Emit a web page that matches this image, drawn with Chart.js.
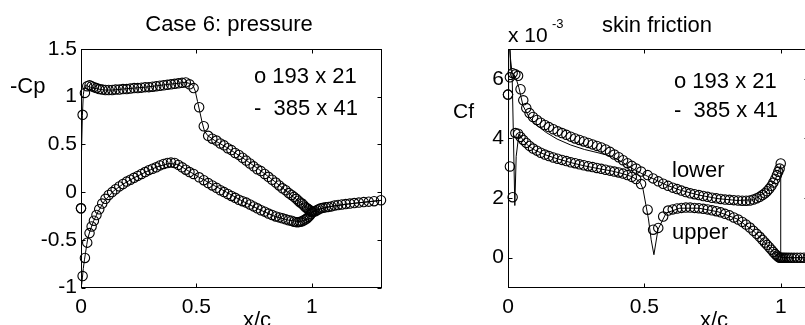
<!DOCTYPE html>
<html>
<head>
<meta charset="utf-8">
<script src="https://cdn.jsdelivr.net/npm/chart.js@4.4.1/dist/chart.umd.min.js"></script>
<style>
  html, body { margin: 0; padding: 0; background: #fff; overflow: hidden; }
  body { width: 805px; height: 325px; position: relative; }
  canvas { position: absolute; top: 0; }
  #cpChart { left: 0; }
  #cfChart { left: 400px; }
</style>
</head>
<body>
<canvas id="cpChart" width="400" height="325"></canvas>
<canvas id="cfChart" width="430" height="325"></canvas>
<script>
// coarse grid (193 x 21): surface stations, same for upper and lower side
const xSurf = [
  0.000, 0.007, 0.017, 0.027, 0.037, 0.046, 0.056, 0.067, 0.079, 0.092,
  0.106, 0.120, 0.135, 0.150, 0.166, 0.182, 0.198, 0.214, 0.230, 0.246,
  0.262, 0.278, 0.294, 0.310, 0.326, 0.342, 0.358, 0.374, 0.390, 0.406,
  0.422, 0.438, 0.454, 0.470, 0.488, 0.512, 0.532, 0.551, 0.569, 0.587,
  0.604, 0.620, 0.636, 0.652, 0.668, 0.684, 0.700, 0.716, 0.732, 0.748,
  0.764, 0.780, 0.796, 0.812, 0.828, 0.844, 0.859, 0.873, 0.887, 0.900,
  0.912, 0.923, 0.933, 0.942, 0.950, 0.958, 0.966, 0.973, 0.980, 0.986,
  0.991, 0.996, 1.000
];
const xWake = [
  1.004, 1.009, 1.015, 1.022, 1.030, 1.039, 1.049, 1.060, 1.072, 1.085,
  1.099, 1.114, 1.130, 1.147, 1.165, 1.184, 1.204, 1.225, 1.247, 1.270, 1.300
];

// -Cp, coarse grid
const cpUpper = [
  -0.17, 0.81, 1.04, 1.11, 1.12, 1.11, 1.10, 1.09, 1.08, 1.075,
  1.07, 1.07, 1.07, 1.075, 1.075, 1.08, 1.08, 1.085, 1.09, 1.09,
  1.095, 1.10, 1.10, 1.105, 1.11, 1.115, 1.12, 1.125, 1.13, 1.135,
  1.14, 1.145, 1.15, 1.13, 1.09, 0.89, 0.69, 0.59, 0.56, 0.54,
  0.51, 0.49, 0.46, 0.44, 0.41, 0.39, 0.36, 0.33, 0.30, 0.27,
  0.24, 0.22, 0.19, 0.16, 0.13, 0.10, 0.07, 0.04, 0.02, -0.01,
  -0.03, -0.05, -0.07, -0.09, -0.11, -0.12, -0.14, -0.16, -0.17, -0.18,
  -0.19, -0.20, -0.21
];
const cpLower = [
  -0.17, -0.88, -0.69, -0.53, -0.43, -0.36, -0.30, -0.24, -0.18, -0.12,
  -0.07, -0.03, 0.00, 0.03, 0.06, 0.085, 0.11, 0.13, 0.15, 0.17,
  0.19, 0.21, 0.23, 0.245, 0.26, 0.28, 0.295, 0.305, 0.31, 0.305,
  0.285, 0.26, 0.235, 0.21, 0.19, 0.155, 0.125, 0.095, 0.07, 0.045,
  0.02, 0.00, -0.02, -0.04, -0.06, -0.08, -0.095, -0.11, -0.13, -0.15,
  -0.17, -0.19, -0.205, -0.225, -0.24, -0.255, -0.265, -0.275, -0.285, -0.295,
  -0.30, -0.31, -0.315, -0.315, -0.31, -0.305, -0.295, -0.285, -0.275, -0.26,
  -0.245, -0.23, -0.21
];
const cpWake = [
  -0.21, -0.205, -0.20, -0.19, -0.18, -0.17, -0.165, -0.16, -0.155, -0.15,
  -0.14, -0.135, -0.13, -0.125, -0.12, -0.115, -0.11, -0.105, -0.10, -0.095, -0.085
];

// Cf (x 10^-3), coarse grid
const cfUpper = [
  5.47, 3.06, 2.03, 4.18, 4.16, 4.05, 3.95, 3.85, 3.75, 3.66,
  3.59, 3.52, 3.46, 3.41, 3.36, 3.32, 3.28, 3.24, 3.20, 3.17,
  3.13, 3.10, 3.07, 3.04, 3.01, 2.98, 2.95, 2.92, 2.89, 2.86,
  2.82, 2.77, 2.71, 2.64, 2.47, 1.61, 0.94, 1.00, 1.38, 1.58,
  1.62, 1.65, 1.67, 1.68, 1.68, 1.67, 1.66, 1.64, 1.62, 1.59,
  1.56, 1.52, 1.47, 1.42, 1.35, 1.28, 1.20, 1.11, 1.01, 0.90,
  0.80, 0.70, 0.60, 0.51, 0.43, 0.35, 0.27, 0.19, 0.12, 0.07,
  0.03, 0.00, 0.00
];
const cfLower = [
  5.47, 6.05, 6.19, 6.15, 6.10, 5.65, 5.28, 5.02, 4.85, 4.72,
  4.62, 4.53, 4.45, 4.38, 4.31, 4.24, 4.18, 4.12, 4.06, 4.00,
  3.95, 3.90, 3.85, 3.80, 3.75, 3.70, 3.63, 3.55, 3.46, 3.37,
  3.27, 3.17, 3.08, 2.99, 2.89, 2.77, 2.66, 2.56, 2.48, 2.41,
  2.35, 2.30, 2.25, 2.20, 2.16, 2.13, 2.10, 2.07, 2.04, 2.01,
  1.99, 1.97, 1.95, 1.94, 1.93, 1.92, 1.91, 1.91, 1.92, 1.95,
  1.99, 2.04, 2.10, 2.16, 2.23, 2.31, 2.41, 2.52, 2.64, 2.77,
  2.88, 2.99, 3.16
];
const cfWake = [0, 0, 0, 0, 0, 0, 0, 0, 0, 0, 0, 0, 0, 0, 0, 0, 0, 0, 0, 0, 0];

// fine grid (385 x 41), drawn as a line
const xFine = [
  0.000, 0.003, 0.006, 0.010, 0.015, 0.020, 0.025, 0.030, 0.040, 0.055,
  0.075, 0.100, 0.140, 0.180, 0.230, 0.280, 0.330, 0.380, 0.420, 0.450,
  0.470, 0.485, 0.495, 0.505, 0.515, 0.525, 0.535, 0.550, 0.580, 0.630,
  0.700, 0.770, 0.840, 0.900, 0.950, 0.980, 1.000
];
const xWakeFine = [1.000, 1.020, 1.050, 1.080, 1.120, 1.160, 1.200, 1.250, 1.300];
const cpUpperFine = [
  -0.95, 0.30, 0.80, 1.02, 1.10, 1.12, 1.12, 1.11, 1.10, 1.09,
  1.08, 1.07, 1.07, 1.08, 1.09, 1.10, 1.115, 1.13, 1.14, 1.15,
  1.14, 1.12, 1.06, 0.95, 0.84, 0.73, 0.64, 0.59, 0.54, 0.47,
  0.36, 0.24, 0.11, -0.01, -0.11, -0.17, -0.21
];
const cpLowerFine = [
  -0.95, -0.97, -0.90, -0.80, -0.71, -0.63, -0.55, -0.48, -0.40, -0.30,
  -0.20, -0.10, 0.01, 0.08, 0.15, 0.21, 0.265, 0.30, 0.29, 0.245,
  0.215, 0.195, 0.18, 0.165, 0.15, 0.14, 0.125, 0.105, 0.065, 0.00,
  -0.095, -0.18, -0.255, -0.295, -0.31, -0.28, -0.21
];
const cpWakeFine = [-0.21, -0.19, -0.167, -0.152, -0.137, -0.124, -0.113, -0.10, -0.087];
const cfUpperFine = [
  0.00, 9.00, 7.00, 6.60, 6.20, 4.00, 1.75, 3.40, 4.15, 3.95,
  3.75, 3.60, 3.44, 3.32, 3.19, 3.08, 2.99, 2.91, 2.82, 2.73,
  2.64, 2.52, 2.30, 1.80, 1.30, 0.60, 0.10, 0.95, 1.50, 1.66,
  1.66, 1.54, 1.30, 0.90, 0.43, 0.12, 0.00
];
const cfLowerFine = [
  0.00, 9.50, 7.50, 6.30, 6.20, 6.15, 6.10, 6.00, 5.70, 5.10,
  4.75, 4.48, 4.20, 3.98, 3.78, 3.63, 3.52, 3.40, 3.20, 3.02,
  2.92, 2.85, 2.80, 2.76, 2.72, 2.68, 2.64, 2.57, 2.44, 2.27,
  2.10, 1.98, 1.92, 1.94, 2.23, 2.62, 3.10
];
const cfWakeFine = [0, 0, 0, 0, 0, 0, 0, 0, 0];

// axis ticks
const xTicks = [0, 0.5, 1];
const cpTicks = [-1, -0.5, 0, 0.5, 1, 1.5];
const cfTicks = [0, 2, 4, 6];

const FONT = "'Liberation Sans', Arial, Helvetica, sans-serif";

function pts(xs, ys) {
  return xs.map((x, i) => ({ x: x, y: ys[i] }));
}

// markers: every station of the coarse grid
function coarseSet(upper, lower, wake) {
  return {
    data: pts(xSurf, upper).concat(pts(xSurf, lower), pts(xWake, wake)),
    showLine: false,
    pointStyle: 'circle',
    pointRadius: 4.7,
    pointBorderWidth: 1.1,
    pointBorderColor: '#000',
    pointBackgroundColor: 'rgba(0,0,0,0)',
    clip: false
  };
}

// line: C-grid order, wake -> lower surface -> LE -> upper surface -> wake
function fineSet(upper, lower, wake) {
  const path = pts(xWakeFine, wake).reverse()
    .concat(pts(xFine, lower).reverse(), pts(xFine, upper), pts(xWakeFine, wake));
  return {
    data: path,
    showLine: true,
    borderColor: '#000',
    borderWidth: 1,
    pointRadius: 0,
    tension: 0
  };
}

// box round the axes with inward ticks on all four sides
const boxPlugin = {
  id: 'box',
  afterDraw(chart) {
    const { ctx, chartArea: a, scales } = chart;
    const L = Math.floor(a.left) + 0.5, R = Math.floor(a.right) + 0.5;
    const T = Math.floor(a.top) + 0.5, B = Math.floor(a.bottom) + 0.5;
    ctx.save();
    ctx.strokeStyle = '#000';
    ctx.lineWidth = 1;
    ctx.strokeRect(L, T, R - L, B - T);
    ctx.beginPath();
    scales.x.ticks.forEach(t => {
      const px = Math.round(scales.x.getPixelForValue(t.value)) + 0.5;
      ctx.moveTo(px, B); ctx.lineTo(px, B - 4);
      ctx.moveTo(px, T); ctx.lineTo(px, T + 4);
    });
    scales.y.ticks.forEach(t => {
      const py = Math.round(scales.y.getPixelForValue(t.value)) + 0.5;
      ctx.moveTo(L, py); ctx.lineTo(L + 4, py);
      ctx.moveTo(R, py); ctx.lineTo(R - 4, py);
    });
    ctx.stroke();
    ctx.restore();
  }
};

// free text: titles, axis labels, in-plot notes
const notesPlugin = {
  id: 'notes',
  afterDraw(chart, args, opts) {
    const ctx = chart.ctx;
    ctx.save();
    ctx.fillStyle = '#000';
    ctx.textBaseline = 'alphabetic';
    (opts.items || []).forEach(n => {
      ctx.font = n.size + 'px ' + FONT;
      ctx.textAlign = n.align || 'left';
      ctx.fillText(n.text, n.x, n.y);
    });
    ctx.restore();
  }
};

function makeChart(id, datasets, cfg) {
  return new Chart(document.getElementById(id), {
    type: 'scatter',
    data: { datasets },
    plugins: [boxPlugin, notesPlugin],
    options: {
      responsive: false,
      animation: false,
      devicePixelRatio: 1,
      events: [],
      layout: { padding: { left: 0, top: 49, right: cfg.padRight, bottom: 0 } },
      plugins: {
        legend: { display: false },
        tooltip: { enabled: false },
        notes: { items: cfg.notes }
      },
      scales: {
        x: {
          type: 'linear',
          min: cfg.xMin, max: cfg.xMax,
          grid: { display: false, drawTicks: false },
          border: { display: false },
          afterBuildTicks: s => { s.ticks = xTicks.map(v => ({ value: v })); },
          afterFit: s => { s.height = 37.5; },
          ticks: {
            color: '#000', padding: 7, maxRotation: 0, autoSkip: false,
            font: { family: FONT, size: 21 },
            callback: v => String(v)
          }
        },
        y: {
          type: 'linear',
          min: cfg.yMin, max: cfg.yMax,
          grid: { display: false, drawTicks: false },
          border: { display: false },
          afterBuildTicks: s => { s.ticks = cfg.yTicks.map(v => ({ value: v })); },
          afterFit: s => { s.width = cfg.yWidth; },
          ticks: {
            color: '#000', padding: 4, autoSkip: false,
            font: { family: FONT, size: 21 },
            callback: v => String(v)
          }
        }
      }
    }
  });
}

makeChart('cpChart', [
  coarseSet(cpUpper, cpLower, cpWake),
  fineSet(cpUpperFine, cpLowerFine, cpWakeFine)
], {
  xMin: 0, xMax: 1.3, yMin: -1, yMax: 1.5,
  yTicks: cpTicks, yWidth: 81, padRight: 19,
  notes: [
    { text: 'Case 6: pressure', x: 229, y: 31, size: 22, align: 'center' },
    { text: '-Cp', x: 10, y: 93, size: 22 },
    { text: 'o 193 x 21', x: 254, y: 83, size: 22 },
    { text: '-  385 x 41', x: 254, y: 115, size: 22 },
    { text: 'x/c', x: 257, y: 327, size: 22, align: 'center' }
  ]
});

makeChart('cfChart', [
  coarseSet(cfUpper, cfLower, cfWake),
  fineSet(cfUpperFine, cfLowerFine, cfWakeFine)
], {
  xMin: 0, xMax: 1.1, yMin: -1, yMax: 7,
  yTicks: cfTicks, yWidth: 108, padRight: 22,
  notes: [
    { text: 'skin friction', x: 257, y: 32, size: 22, align: 'center' },
    { text: 'x 10', x: 108, y: 42, size: 21 },
    { text: '-3', x: 152, y: 28, size: 13 },
    { text: 'Cf', x: 53, y: 118, size: 21 },
    { text: 'o 193 x 21', x: 274, y: 88, size: 22 },
    { text: '-  385 x 41', x: 274, y: 117, size: 22 },
    { text: 'lower', x: 272, y: 177, size: 22 },
    { text: 'upper', x: 272, y: 239, size: 22 },
    { text: 'x/c', x: 314, y: 327, size: 22, align: 'center' }
  ]
});
</script>
</body>
</html>
